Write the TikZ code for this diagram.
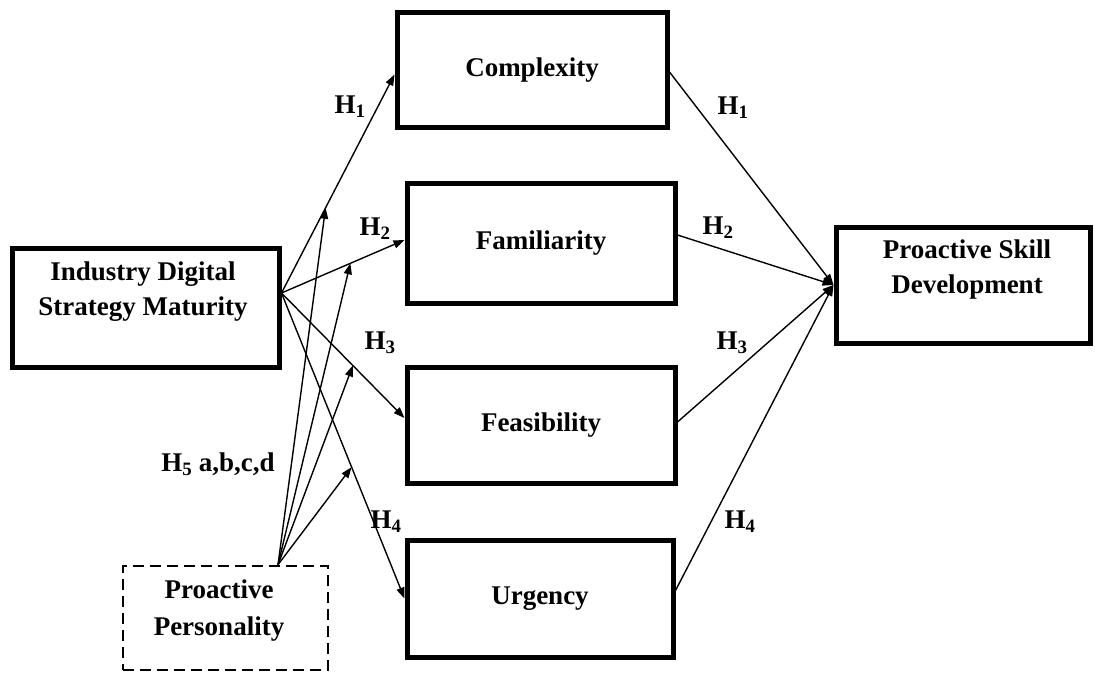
\documentclass[tikz,border=0pt]{standalone}
\usepackage{fontspec}
\setmainfont{Liberation Serif}
\usetikzlibrary{arrows.meta,calc}
\begin{document}
\begin{tikzpicture}[x=1pt,y=-1pt,
  box/.style={draw, line width=5pt, rectangle, inner sep=0pt},
  dbox/.style={draw, line width=2.5pt, dash pattern=on 11pt off 6pt, rectangle, inner sep=0pt},
  txt/.style={font=\fontsize{27}{35}\selectfont\bfseries, align=center, inner sep=0pt},
  lab/.style={font=\fontsize{27}{32}\selectfont\bfseries, inner sep=0pt},
  arr/.style={line width=1.4pt, -{Triangle[length=11pt,width=8pt]}},
  ln/.style={line width=1.4pt}]
\useasboundingbox (0,0) rectangle (1095,674);

% boxes
\node[box, minimum width=267pt, minimum height=119pt] (idsm) at (145.5,307.5) {};
\node[txt] (idsmt) at (143,292) {Industry Digital\\Strategy Maturity};

\node[box, txt, minimum width=270pt, minimum height=115pt] (com) at (532,70.5) {Complexity};
\node[box, txt, minimum width=268pt, minimum height=120pt] (fam) at (541,243) {Familiarity};
\node[box, txt, minimum width=268pt, minimum height=116pt] (fea) at (541,425) {Feasibility};
\node[box, txt, minimum width=266pt, minimum height=117pt] (urg) at (540,598.5) {Urgency};

\node[box, minimum width=254pt, minimum height=116pt] (psd) at (963,285) {};
\node[txt] (psdt) at (967,270) {Proactive Skill\\Development};

\node[dbox, minimum width=205pt, minimum height=104pt] (pp) at (225.5,618) {};
\node[txt, font=\fontsize{27}{37}\selectfont\bfseries] (ppt) at (219,611) {Proactive\\Personality};

% start points
\coordinate (s) at ([yshift=14.5pt]idsm.east);
\coordinate (o) at ([xshift=52.5pt]pp.north);

% IDSM -> mediators
\draw[arr] (s) -- coordinate[pos=0.39] (m1) ([yshift=-4pt]com.west);
\draw[arr] (s) -- coordinate[pos=0.56] (m2) ([yshift=3pt]fam.west);
\draw[arr] (s) -- coordinate[pos=0.58] (m3) ([yshift=7pt]fea.west);
\draw[arr] (s) -- coordinate[pos=0.57] (m4) (urg.west);

% moderator
\draw[arr] (o) -- (m1);
\draw[arr] (o) -- (m2);
\draw[arr] (o) -- (m3);
\draw[arr] (o) -- (m4);

% mediators -> PSD
\draw[arr] ([yshift=-1.5pt]com.east) -- (psd.west);
\draw[arr] ([yshift=8pt]fam.east) -- (psd.west);
\draw[arr] ([yshift=3pt]fea.east) -- (psd.west);
\draw[arr] ([yshift=8pt]urg.east) -- (psd.west);

% labels
\node[lab] (h1l) at (350,107) {H\textsubscript{1}};
\node[lab] (h2l) at (375,229) {H\textsubscript{2}};
\node[lab] (h3l) at (380,343) {H\textsubscript{3}};
\node[lab] (h4l) at (386,522) {H\textsubscript{4}};
\node[lab] (h5l) at (218,464) {H\textsubscript{5} a,b,c,d};
\node[lab] (h1r) at (733,108) {H\textsubscript{1}};
\node[lab] (h2r) at (718,228) {H\textsubscript{2}};
\node[lab] (h3r) at (732,343) {H\textsubscript{3}};
\node[lab] (h4r) at (740,522) {H\textsubscript{4}};
\end{tikzpicture}
\end{document}
